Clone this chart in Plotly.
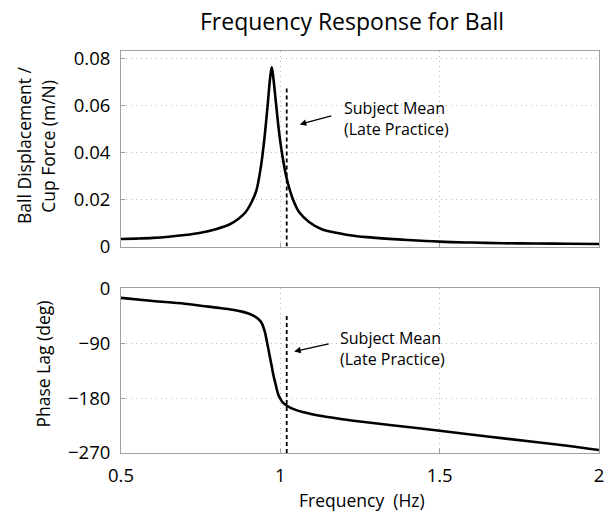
import plotly.graph_objects as go
from plotly.subplots import make_subplots

# ---- data ----
mag_freq = [0.5, 0.55, 0.6, 0.65, 0.7, 0.75, 0.8, 0.84, 0.87, 0.89, 0.91, 0.925, 0.94, 0.95,
            0.96, 0.968, 0.973, 0.978, 0.985, 0.995, 1.005, 1.02, 1.04, 1.06, 1.09, 1.13,
            1.18, 1.23, 1.3, 1.4, 1.5, 1.6, 1.7, 1.8, 1.9, 2.0]
mag_vals = [0.0032, 0.0034, 0.0037, 0.0042, 0.0049, 0.0059, 0.0075, 0.0094, 0.0120, 0.0145,
            0.019, 0.024, 0.035, 0.046, 0.060, 0.072, 0.0764, 0.072, 0.063, 0.050, 0.040,
            0.029, 0.020, 0.0145, 0.0105, 0.0074, 0.0058, 0.0046, 0.0037, 0.0028, 0.0021,
            0.0017, 0.0014, 0.0013, 0.0012, 0.0011]

ph_freq = [0.5, 0.6, 0.7, 0.8, 0.85, 0.88, 0.9, 0.915, 0.93, 0.94, 0.947, 0.953, 0.958, 0.963,
           0.968, 0.973, 0.978, 0.984, 0.989, 0.994, 1.001, 1.009, 1.025, 1.046, 1.07,
           1.1, 1.13, 1.16, 1.2, 1.25, 1.35, 1.5, 1.65, 1.8, 1.9, 2.0]
ph_vals = [-16, -21, -25.5, -32, -35.5, -38.5, -41.5, -45, -50, -56, -64, -75, -88, -101,
           -115, -128, -142, -155, -166, -175, -182, -188, -194, -199, -203, -206.5, -209.5,
           -212, -215, -218.5, -224.5, -233.5, -243, -252, -258, -265]

mean_freq = 1.02
mean_mag_top = 0.068
mean_ph_top = -43

mag_ticks = [0, 0.02, 0.04, 0.06, 0.08]
mag_ticklabels = ["0", "0.02", "0.04", "0.06", "0.08"]
ph_ticks = [-270, -180, -90, 0]
ph_ticklabels = ["\u2212270", "\u2212180", "\u221290", "0"]
x_ticks = [0.5, 1, 1.5, 2]
x_ticklabels = ["0.5", "1", "1.5", "2"]

FONT = "Open Sans"
W, H = 613, 512
L, R, T, B = 121, 9, 51, 58.7
PW, PH = W - L - R, H - T - B

def px(xp):
    return (xp - L) / PW

def py(yp):
    return (H - B - yp) / PH

fig = make_subplots(rows=2, cols=1)
fig.update_layout(
    yaxis=dict(domain=[py(246.7), 1.0]),
    yaxis2=dict(domain=[0.0, py(288.3)]),
    xaxis=dict(domain=[0, 1]),
    xaxis2=dict(domain=[0, 1]),
)

line = dict(color="black", width=2.6)
fig.add_trace(go.Scatter(x=mag_freq, y=mag_vals, mode="lines", line=line,
                         line_shape="spline", showlegend=False), row=1, col=1)
fig.add_trace(go.Scatter(x=ph_freq, y=ph_vals, mode="lines", line=line,
                         line_shape="spline", showlegend=False), row=2, col=1)

dash = dict(color="black", width=1.8, dash="4px,3px")
fig.add_trace(go.Scatter(x=[mean_freq, mean_freq], y=[0, mean_mag_top], mode="lines",
                         line=dash, showlegend=False), row=1, col=1)
fig.add_trace(go.Scatter(x=[mean_freq, mean_freq], y=[-270, mean_ph_top], mode="lines",
                         line=dash, showlegend=False), row=2, col=1)

axcommon = dict(showline=True, linecolor="#a0a0a0", linewidth=1, mirror=True,
                showgrid=True, gridcolor="#b8b8b8", griddash="1px,4px", gridwidth=1,
                zeroline=False, ticks="inside", ticklen=4, tickcolor="#a0a0a0",
                tickfont=dict(family=FONT, size=18.5, color="black"))
fig.update_xaxes(**axcommon, range=[0.5, 2], tickvals=x_ticks, ticktext=x_ticklabels,
                 ticklabelstandoff=6)
fig.update_xaxes(showticklabels=False, row=1, col=1)
fig.update_yaxes(**axcommon, ticklabelstandoff=6)
fig.update_yaxes(range=[0, 0.0834], tickvals=mag_ticks, ticktext=mag_ticklabels, row=1, col=1)
fig.update_yaxes(range=[-270, 0], tickvals=ph_ticks, ticktext=ph_ticklabels, row=2, col=1)

ann_font = dict(family=FONT, size=17.5, color="black")
small_font = dict(family=FONT, size=16, color="black")
annotations = [
    dict(text="Frequency Response for Ball", xref="paper", yref="paper", x=px(354), y=py(21),
         showarrow=False, font=dict(family=FONT, size=23, color="black"),
         xanchor="center", yanchor="middle"),
    dict(text="Ball Displacement /", xref="paper", yref="paper", x=px(23), y=py(146),
         showarrow=False, textangle=-90, font=ann_font, xanchor="center", yanchor="middle"),
    dict(text="Cup Force (m/N)", xref="paper", yref="paper", x=px(47), y=py(146),
         showarrow=False, textangle=-90, font=ann_font, xanchor="center", yanchor="middle"),
    dict(text="Phase Lag (deg)", xref="paper", yref="paper", x=px(42), y=py(364),
         showarrow=False, textangle=-90, font=ann_font, xanchor="center", yanchor="middle"),
    dict(text="Frequency  (Hz)", xref="paper", yref="paper", x=px(365), y=py(500),
         showarrow=False, font=ann_font, xanchor="center", yanchor="middle"),
    # top arrow + label
    dict(text="", x=1.061, y=0.0521, xref="x", yref="y", ax=33, ay=-9,
         showarrow=True, arrowhead=2, arrowsize=1, arrowwidth=1.3, arrowcolor="black"),
    dict(text="Subject Mean<br>(Late Practice)", x=1.1925, y=0.0547, xref="x", yref="y",
         showarrow=False, align="left", xanchor="left", yanchor="middle", font=small_font),
    # bottom arrow + label
    dict(text="", x=1.0435, y=-103.7, xref="x2", yref="y2", ax=36, ay=-8,
         showarrow=True, arrowhead=2, arrowsize=1, arrowwidth=1.3, arrowcolor="black"),
    dict(text="Subject Mean<br>(Late Practice)", x=1.180, y=-99, xref="x2", yref="y2",
         showarrow=False, align="left", xanchor="left", yanchor="middle", font=small_font),
]
fig.update_layout(annotations=annotations, width=W, height=H,
                  margin=dict(l=L, r=R, t=T, b=B), plot_bgcolor="white",
                  paper_bgcolor="white", showlegend=False)
fig.write_html("out.html")
